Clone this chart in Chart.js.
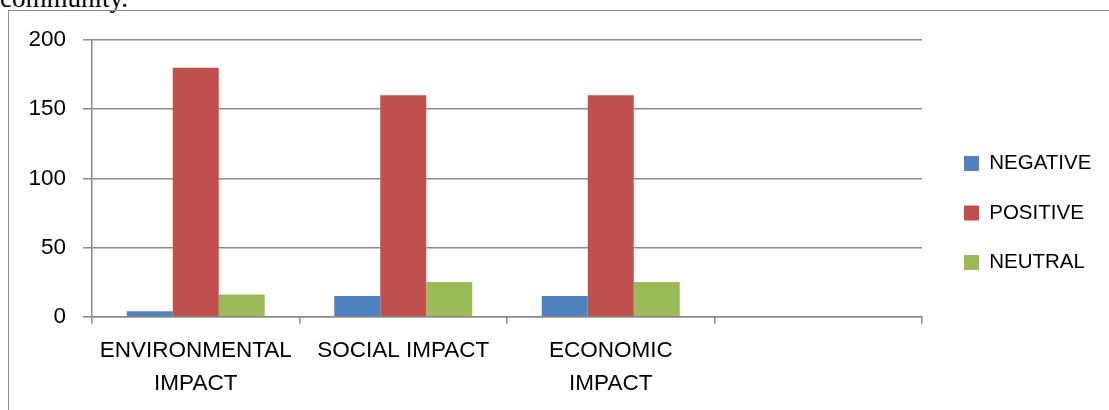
<!DOCTYPE html>
<html>
<head>
<meta charset="utf-8">
<script src="https://cdn.jsdelivr.net/npm/chart.js@4/dist/chart.umd.min.js"></script>
<style>
  html, body { margin: 0; padding: 0; background: #fff; overflow: hidden; }
  body { width: 1109px; height: 410px; position: relative; }
  #caption {
    position: absolute; left: 0; top: -15px;
    font: 27px "Liberation Serif", "Times New Roman", serif;
    line-height: 27px; color: #000; white-space: nowrap;
  }
  #frame {
    position: absolute; left: 8px; top: 10px;
    width: 1300px; height: 600px;
    border: 1.5px solid #8c8c8c;
  }
  #wrap { position: absolute; left: 0; top: 0; width: 1109px; height: 410px; }
</style>
</head>
<body>
<div id="caption">community.</div>
<div id="frame"></div>
<div id="wrap"><canvas id="chart"></canvas></div>
<script>
const categories = [["ENVIRONMENTAL", "IMPACT"], "SOCIAL IMPACT", ["ECONOMIC", "IMPACT"], ""];
const negative = [4, 15, 15, null];
const positive = [180, 160, 160, null];
const neutral = [16, 25, 25, null];
const yTicks = [0, 50, 100, 150, 200];

const gridColor = "#8a8a8a";

Chart.defaults.font.family = '"Liberation Sans", Arial, sans-serif';
Chart.defaults.color = "#000";

// keep the legend in a fixed-width column right of the plot, then nudge it into place
const legendSpot = {
  id: "legendSpot",
  afterInit(chart) {
    const legend = chart.legend;
    const fit = legend.fit;
    legend.fit = function () {
      fit.call(this);
      this.width = 187;
    };
  },
  afterLayout(chart) {
    const l = chart.legend;
    l.left += 13;
    l.right += 13;
    l.top -= 12;
    l.bottom -= 12;
  },
};

new Chart(document.getElementById("chart"), {
  type: "bar",
  data: {
    labels: categories,
    datasets: [
      { label: "NEGATIVE", data: negative, backgroundColor: "#4f81bd", borderWidth: 0 },
      { label: "POSITIVE", data: positive, backgroundColor: "#c0504d", borderWidth: 0 },
      { label: "NEUTRAL", data: neutral, backgroundColor: "#9bbb59", borderWidth: 0 },
    ],
  },
  options: {
    responsive: true,
    maintainAspectRatio: false,
    animation: false,
    layout: { padding: { top: 40, left: 0, right: 0, bottom: 0 } },
    datasets: { bar: { categoryPercentage: 0.665, barPercentage: 1 } },
    plugins: {
      legend: {
        position: "right",
        labels: {
          boxWidth: 15,
          boxHeight: 15,
          padding: 29,
          color: "#000",
          font: { size: 20.5 },
        },
      },
      tooltip: { enabled: false },
    },
    scales: {
      x: {
        grid: {
          offset: true,
          drawOnChartArea: false,
          drawTicks: true,
          tickLength: 7,
          color: gridColor,
          lineWidth: 1.5,
        },
        border: { display: true, color: gridColor, width: 1.5 },
        ticks: {
          color: "#000",
          padding: 11,
          maxRotation: 0,
          autoSkip: false,
          font: { size: 22.5, lineHeight: 1.44 },
        },
        afterFit(scale) {
          scale.height = 93.3;
        },
      },
      y: {
        min: 0,
        max: 200,
        afterBuildTicks(scale) {
          scale.ticks = yTicks.map((v) => ({ value: v }));
        },
        grid: {
          drawTicks: true,
          tickLength: 9,
          color: gridColor,
          lineWidth: 1.5,
        },
        border: { display: true, color: gridColor, width: 1.5 },
        ticks: {
          color: "#000",
          padding: 17,
          font: { size: 22.5 },
        },
        afterFit(scale) {
          scale.width = 92;
        },
      },
    },
  },
  plugins: [legendSpot],
});
</script>
</body>
</html>
